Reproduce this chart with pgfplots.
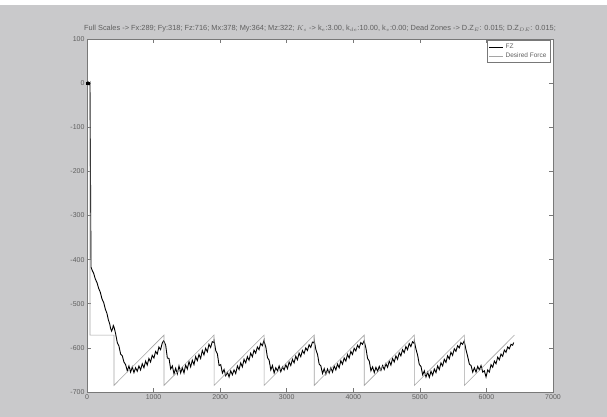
\documentclass[border=0pt]{standalone}
\usepackage{pgfplots}
\pgfplotsset{compat=1.18}
\usepackage{fontspec}
\setmainfont{Liberation Sans}
\definecolor{bggray}{RGB}{201,201,203}
\definecolor{desgray}{RGB}{165,165,165}
\definecolor{axgray}{RGB}{120,120,120}
\definecolor{txtgray}{RGB}{95,95,95}
\begin{document}
\begin{tikzpicture}[x=1pt,y=1pt]
\useasboundingbox (0,0) rectangle (607,417);
\fill[bggray] (0,0) rectangle (607,412);
\fill[white] (0,412) rectangle (607,417);
\begin{axis}[
  at={(87pt,25pt)}, anchor=south west,
  scale only axis, width=466pt, height=353pt,
  xmin=0, xmax=7000, ymin=-700, ymax=100,
  xtick={0,1000,...,7000}, ytick={-700,-600,...,100},
  /pgf/number format/1000 sep={},
  /pgf/number format/assume math mode=true,
  tick align=inside, major tick length=4pt,
  tick style={axgray, line width=0.6pt},
  axis line style={axgray, line width=0.7pt},
  tick label style={font=\fontsize{7}{8}\selectfont, text=txtgray},
  xticklabel style={yshift=1pt},
  yticklabel style={xshift=1pt},
  axis background/.style={fill=white},
  title style={font=\fontsize{7.4}{8}\selectfont, text=txtgray, yshift=-3pt},
  title={Full Scales -> Fx:289; Fy:318; Fz:716; Mx:378; My:364; Mz:322; $K_s$ -> k$_e$:3.00, k$_{de}$:10.00, k$_v$:0.00; Dead Zones -> D.Z$_E$: 0.015; D.Z$_{DE}$: 0.015;},
  legend style={at={(rel axis cs:0.994,0.997)}, anchor=north east, draw=axgray, line width=0.6pt,
    font=\fontsize{6.5}{7.5}\selectfont, text=txtgray, inner sep=1.5pt, row sep=-1pt, cells={anchor=west}},
  legend image code/.code={\draw[#1, line width=0.6pt] (0pt,0pt) -- (14pt,0pt);},
]
\addplot[black, line width=0.9pt] coordinates {
(0,0) (15,3) (30,-3) (45,1) (60,-417) (80,-425) (100,-431) (125,-444) (150,-452) (175,-465) (200,-474) (225,-489) (250,-497) (275,-512) (300,-522) (320,-536) (340,-545) (355,-556) (370,-562) (385,-556) (395,-549) (405,-552)
(430,-568) (455,-588) (480,-596) (505,-614) (530,-618) (555,-632) (580,-638) (605,-652) (630,-641) (655,-655) (680,-643) (705,-656) (730,-645) (755,-653) (780,-641) (805,-650) (830,-636) (855,-645) (880,-630) (905,-639) (930,-624) (955,-632) (980,-617) (1005,-623) (1030,-608) (1055,-614) (1080,-598) (1105,-604) (1130,-589) (1150,-584)
(1157,-585) (1182,-594) (1207,-623) (1232,-624) (1257,-648) (1282,-641) (1307,-659) (1332,-646) (1357,-659) (1382,-641) (1407,-657) (1432,-645) (1457,-657) (1482,-639) (1507,-648) (1532,-631) (1557,-643) (1582,-628) (1607,-638) (1632,-620) (1657,-629) (1682,-615) (1707,-624) (1732,-606) (1757,-616) (1782,-601) (1807,-609) (1832,-592) (1857,-599) (1882,-586) (1907,-588)
(1909,-584) (1934,-606) (1959,-614) (1984,-640) (2009,-638) (2034,-657) (2059,-649) (2084,-663) (2109,-655) (2134,-666) (2159,-652) (2184,-661) (2209,-650) (2234,-658) (2259,-641) (2284,-649) (2309,-634) (2334,-643) (2359,-626) (2384,-634) (2409,-620) (2434,-628) (2459,-612) (2484,-620) (2509,-605) (2534,-612) (2559,-598) (2584,-604) (2609,-590) (2634,-595) (2659,-583)
(2661,-586) (2686,-598) (2711,-622) (2736,-628) (2761,-650) (2786,-640) (2811,-657) (2836,-645) (2861,-652) (2886,-641) (2911,-654) (2936,-643) (2961,-650) (2986,-638) (3011,-647) (3036,-632) (3061,-640) (3086,-626) (3111,-634) (3136,-619) (3161,-627) (3186,-612) (3211,-620) (3236,-606) (3261,-613) (3286,-600) (3311,-606) (3336,-593) (3361,-599) (3386,-587) (3411,-589)
(3413,-584) (3438,-604) (3463,-615) (3488,-637) (3513,-641) (3538,-658) (3563,-647) (3588,-660) (3613,-648) (3638,-657) (3663,-645) (3688,-655) (3713,-641) (3738,-650) (3763,-637) (3788,-645) (3813,-629) (3838,-637) (3863,-623) (3888,-630) (3913,-615) (3938,-623) (3963,-608) (3988,-615) (4013,-601) (4038,-607) (4063,-594) (4088,-600) (4113,-588) (4138,-592) (4163,-584)
(4165,-586) (4190,-601) (4215,-624) (4240,-630) (4265,-652) (4290,-643) (4315,-656) (4340,-644) (4365,-653) (4390,-642) (4415,-651) (4440,-640) (4465,-649) (4490,-636) (4515,-644) (4540,-630) (4565,-639) (4590,-624) (4615,-632) (4640,-618) (4665,-626) (4690,-611) (4715,-618) (4740,-604) (4765,-611) (4790,-597) (4815,-604) (4840,-590) (4865,-597) (4890,-586) (4915,-590)
(4917,-585) (4942,-603) (4967,-617) (4992,-638) (5017,-642) (5042,-661) (5067,-652) (5092,-666) (5117,-655) (5142,-667) (5167,-653) (5192,-662) (5217,-648) (5242,-656) (5267,-641) (5292,-649) (5317,-634) (5342,-641) (5367,-626) (5392,-633) (5417,-618) (5442,-625) (5467,-610) (5492,-617) (5517,-602) (5542,-608) (5567,-595) (5592,-600) (5617,-588) (5642,-592) (5667,-584)
(5669,-587) (5694,-605) (5719,-620) (5744,-637) (5769,-640) (5794,-655) (5819,-645) (5844,-655) (5869,-642) (5894,-650) (5919,-640) (5944,-655) (5969,-652) (5994,-666) (6019,-650) (6044,-655) (6069,-638) (6094,-644) (6119,-630) (6144,-636) (6169,-621) (6194,-627) (6219,-614) (6244,-619) (6269,-605) (6294,-610) (6319,-598) (6344,-602) (6369,-592) (6394,-594) (6409,-588)
};
\addlegendentry{FZ}
\addplot[desgray, line width=0.6pt] coordinates {
(0,0) (45,0) (45,-571) (405,-571) (405,-685) (1157,-571) (1157,-685) (1909,-571) (1909,-685) (2661,-571) (2661,-685) (3413,-571) (3413,-685) (4165,-571) (4165,-685) (4917,-571) (4917,-685) (5669,-571) (5669,-685) (6421,-571)
};
\addlegendentry{Desired Force}
\addplot[black, only marks, mark=square*, mark size=1.3pt, forget plot] coordinates {(10,0)};
\end{axis}
\end{tikzpicture}
\end{document}
